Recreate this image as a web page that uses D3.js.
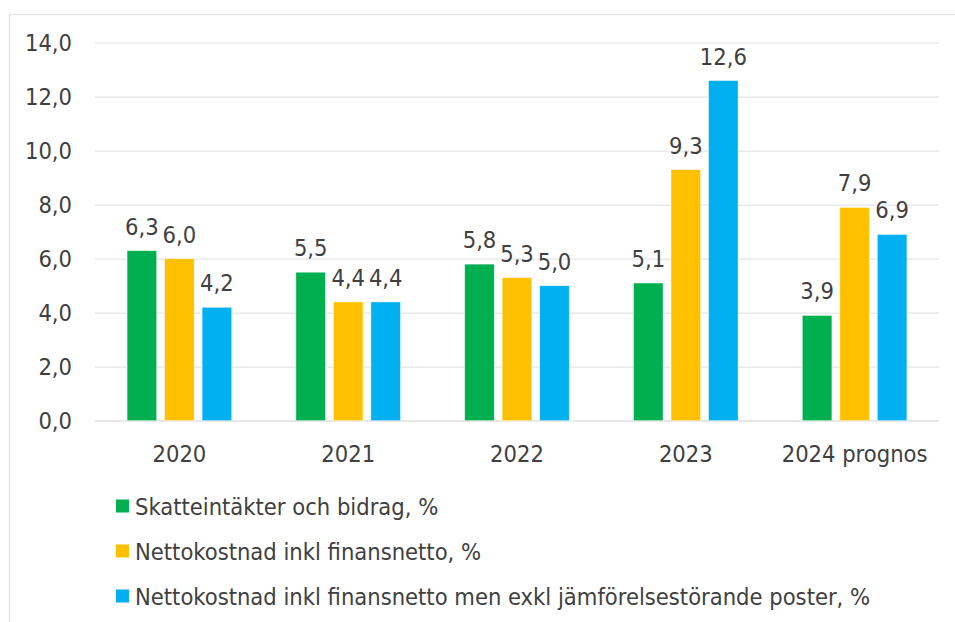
<!DOCTYPE html>
<html>
<head>
<meta charset="utf-8">
<script src="https://cdn.jsdelivr.net/npm/d3@7"></script>
<style>
  html, body { margin: 0; padding: 0; background: #fff; }
  svg text { font-family: "DejaVu Sans Condensed", "DejaVu Sans", sans-serif; font-stretch: condensed; fill: #404040; }
</style>
</head>
<body>
<svg id="chart" width="955" height="622"></svg>
<script>
const categories = ["2020", "2021", "2022", "2023", "2024 prognos"];
const seriesNames = [
  "Skatteintäkter och bidrag, %",
  "Nettokostnad inkl finansnetto, %",
  "Nettokostnad inkl finansnetto men exkl jämförelsestörande poster, %"
];
const skatteintakter = [6.3, 5.5, 5.8, 5.1, 3.9];
const nettokostnad = [6.0, 4.4, 5.3, 9.3, 7.9];
const nettokostnadExkl = [4.2, 4.4, 5.0, 12.6, 6.9];
const yTicks = [0, 2, 4, 6, 8, 10, 12, 14];
const colors = ["#00B050", "#FFC000", "#00B0F0"];

const seriesValues = [skatteintakter, nettokostnad, nettokostnadExkl];
const fmt = v => d3.format(".1f")(v).replace(".", ",");

const svg = d3.select("#chart");
const fontSize = 23.5;

// outer border
svg.append("rect").attr("x", 9.5).attr("y", 14.5).attr("width", 960).attr("height", 640)
  .attr("fill", "none").attr("stroke", "#e3e3e3").attr("stroke-width", 1.2);

const y = d3.scaleLinear().domain([0, 14]).range([420.7, 42.7]);
const x0 = d3.scaleBand().domain(categories).range([95, 939]).paddingInner(0.38).paddingOuter(0.19);
const x1 = d3.scaleBand().domain(d3.range(3)).range([0, x0.bandwidth()]).paddingInner(0.21);

// gridlines
const yAxis = d3.axisLeft(y).tickValues(yTicks).tickSize(-(939 - 95)).tickFormat(fmt).tickPadding(23);
const gy = svg.append("g").attr("transform", "translate(95,0)").call(yAxis);
gy.select(".domain").remove();
gy.selectAll(".tick line").attr("stroke", "#e5e5e5").attr("stroke-width", 1.3);
gy.selectAll(".tick text").attr("font-size", fontSize).attr("font-family", null).attr("fill", "#404040");

// x axis labels
const xAxis = d3.axisBottom(x0).tickSize(0).tickPadding(0);
const gx = svg.append("g").attr("transform", "translate(0,420.7)").call(xAxis);
gx.select(".domain").attr("stroke", "#e5e5e5").attr("stroke-width", 1.3).attr("d", "M95,0H939");
gx.selectAll(".tick text").attr("font-size", fontSize).attr("font-family", null).attr("fill", "#404040")
  .attr("dy", null).attr("y", 41);

// bars
const groups = svg.append("g").selectAll("g").data(categories).join("g")
  .attr("transform", d => `translate(${x0(d)},0)`);

groups.each(function(cat, ci) {
  const g = d3.select(this);
  seriesValues.forEach((vals, si) => {
    const v = vals[ci];
    g.append("rect")
      .attr("x", x1(si)).attr("width", x1.bandwidth())
      .attr("y", y(v)).attr("height", y(0) - y(v))
      .attr("fill", colors[si]).attr("stroke", "#ffffff").attr("stroke-width", 0.8).attr("stroke-opacity", 0.6);
    g.append("text")
      .attr("x", x1(si) + x1.bandwidth() / 2).attr("y", y(v) - 16)
      .attr("text-anchor", "middle").attr("font-size", fontSize)
      .text(fmt(v));
  });
});

// legend
const legend = svg.append("g").selectAll("g").data(seriesNames).join("g")
  .attr("transform", (d, i) => `translate(116,${506 + i * 45})`);
legend.append("rect").attr("x", 0).attr("y", -6.5).attr("width", 13).attr("height", 13)
  .attr("fill", (d, i) => colors[i]);
legend.append("text").attr("x", 19).attr("y", 8.5).attr("font-size", fontSize).text(d => d);
</script>
</body>
</html>
